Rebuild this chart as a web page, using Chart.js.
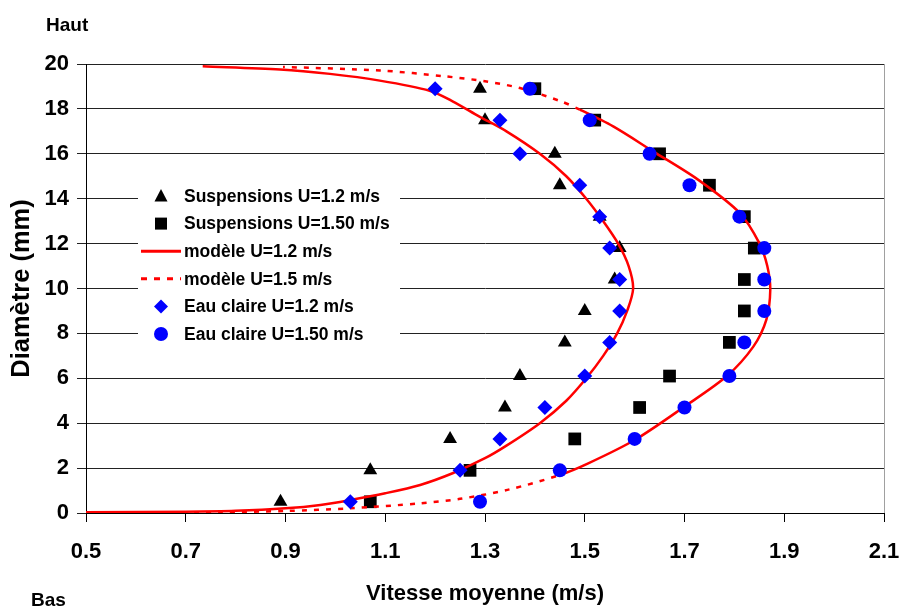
<!DOCTYPE html>
<html>
<head>
<meta charset="utf-8">
<script src="https://cdn.jsdelivr.net/npm/chart.js@4.4.1/dist/chart.umd.min.js"></script>
<style>
  body { margin: 0; background: #fff; }
</style>
</head>
<body>
<canvas id="chart" width="901" height="608"></canvas>
<script>
// measured heights (mm) shared by all the point series
const yLevels = [0.5, 1.9, 3.3, 4.7, 6.1, 7.6, 9.0, 10.4, 11.8, 13.2, 14.6, 16.0, 17.5, 18.9];
const suspU12 = [0.89, 1.07, 1.23, 1.34, 1.37, 1.46, 1.50, 1.56, 1.57, 1.53, 1.45, 1.44, 1.30, 1.29];
const suspU15 = [1.07, 1.27, 1.48, 1.61, 1.67, 1.79, 1.82, 1.82, 1.84, 1.82, 1.75, 1.65, 1.52, 1.40];
const eauU12 = [1.03, 1.25, 1.33, 1.42, 1.50, 1.55, 1.57, 1.57, 1.55, 1.53, 1.49, 1.37, 1.33, 1.20];
const eauU15 = [1.29, 1.45, 1.60, 1.70, 1.79, 1.82, 1.86, 1.86, 1.86, 1.81, 1.71, 1.63, 1.51, 1.39];

// model curves
const modelU12Y = [0.03, 0.06, 0.10, 0.21, 0.36, 0.58, 0.88, 1.25, 1.77, 2.44, 3.0, 4.0, 5.0, 6.0, 7.0, 8.0, 9.0, 10.0, 11.0, 12.0, 13.0, 14.0, 15.0, 16.0, 17.0, 17.67, 18.34, 18.81, 19.26, 19.56, 19.76, 19.90];
const modelU12X = [0.50, 0.70, 0.80, 0.90, 0.97, 1.03, 1.10, 1.17, 1.235, 1.30, 1.343, 1.41, 1.463, 1.503, 1.537, 1.565, 1.585, 1.597, 1.588, 1.567, 1.537, 1.503, 1.463, 1.41, 1.343, 1.288, 1.235, 1.189, 1.089, 0.989, 0.889, 0.734];
const modelU15Y = [0.03, 0.04, 0.09, 0.21, 0.43, 0.63, 1.03, 1.69, 2.21, 3.25, 4.74, 6.10, 7.41, 8.60, 9.94, 11.0, 12.02, 13.36, 14.85, 16.11, 17.22, 17.97, 18.34, 18.93, 19.23, 19.45, 19.71, 19.87];
const modelU15X = [0.50, 0.77, 0.90, 1.03, 1.17, 1.25, 1.345, 1.45, 1.507, 1.60, 1.70, 1.785, 1.838, 1.864, 1.872, 1.866, 1.850, 1.811, 1.727, 1.637, 1.557, 1.49, 1.452, 1.37, 1.30, 1.22, 1.09, 0.895];

const xTicksMin = 0.5, xTicksMax = 2.1, xStep = 0.2;
const yTicksMin = 0, yTicksMax = 20, yStep = 2;

const FONT = '"Liberation Sans", Arial, sans-serif';

function pts(xs, ys) {
  return xs.map((x, i) => ({ x: x, y: ys[i] }));
}

const legendItems = [
  { label: 'Suspensions U=1.2 m/s', kind: 'triangle', color: '#000' },
  { label: 'Suspensions U=1.50 m/s', kind: 'rect', color: '#000' },
  { label: 'modèle U=1.2 m/s', kind: 'line', color: '#ff0000' },
  { label: 'modèle U=1.5 m/s', kind: 'dash', color: '#ff0000' },
  { label: 'Eau claire U=1.2 m/s', kind: 'diamond', color: '#0000ff' },
  { label: 'Eau claire U=1.50 m/s', kind: 'circle', color: '#0000ff' }
];

function drawMarker(ctx, kind, x, y, color) {
  ctx.save();
  ctx.fillStyle = color;
  ctx.strokeStyle = color;
  ctx.beginPath();
  if (kind === 'triangle') {
    ctx.moveTo(x, y - 7);
    ctx.lineTo(x + 6.5, y + 5.5);
    ctx.lineTo(x - 6.5, y + 5.5);
    ctx.closePath();
    ctx.fill();
  } else if (kind === 'rect') {
    ctx.fillRect(x - 6, y - 6, 12, 12);
  } else if (kind === 'diamond') {
    ctx.moveTo(x, y - 7);
    ctx.lineTo(x + 7, y);
    ctx.lineTo(x, y + 7);
    ctx.lineTo(x - 7, y);
    ctx.closePath();
    ctx.fill();
  } else if (kind === 'circle') {
    ctx.arc(x, y, 7, 0, Math.PI * 2);
    ctx.fill();
  } else {
    ctx.lineWidth = 3;
    if (kind === 'dash') ctx.setLineDash([6, 7]);
    ctx.moveTo(141, y);
    ctx.lineTo(181, y);
    ctx.stroke();
  }
  ctx.restore();
}

const extras = {
  id: 'extras',
  afterDraw(chart) {
    const ctx = chart.ctx;
    const a = chart.chartArea;
    ctx.save();
    // right border of plot
    ctx.strokeStyle = '#a0a0a0';
    ctx.lineWidth = 1;
    ctx.beginPath();
    ctx.moveTo(a.right + 0.5, a.top);
    ctx.lineTo(a.right + 0.5, a.bottom);
    ctx.stroke();
    // legend
    ctx.fillStyle = '#fff';
    ctx.fillRect(138, 181, 262, 167);
    let rowY = 196;
    legendItems.forEach(it => {
      drawMarker(ctx, it.kind, 161, rowY, it.color);
      ctx.fillStyle = '#000';
      ctx.font = 'bold 17.5px ' + FONT;
      ctx.textBaseline = 'middle';
      ctx.textAlign = 'left';
      ctx.fillText(it.label, 184, rowY + 1);
      rowY += 27.6;
    });
    // Haut / Bas
    ctx.font = 'bold 19px ' + FONT;
    ctx.textBaseline = 'alphabetic';
    ctx.fillText('Haut', 46, 31);
    ctx.fillText('Bas', 31, 606);
    ctx.restore();
  }
};

new Chart(document.getElementById('chart'), {
  type: 'scatter',
  data: {
    datasets: [
      {
        label: 'Eau claire U=1.50 m/s',
        data: pts(eauU15, yLevels),
        pointStyle: 'circle',
        pointRadius: 7,
        pointBorderWidth: 0,
        backgroundColor: '#0000ff',
        borderColor: '#0000ff',
        order: 0
      },
      {
        label: 'Eau claire U=1.2 m/s',
        data: pts(eauU12, yLevels),
        pointStyle: 'rectRot',
        pointRadius: 7.5,
        pointBorderWidth: 0,
        backgroundColor: '#0000ff',
        borderColor: '#0000ff',
        order: 1
      },
      {
        label: 'modèle U=1.2 m/s',
        data: pts(modelU12X, modelU12Y),
        showLine: true,
        pointRadius: 0,
        borderColor: '#ff0000',
        borderWidth: 2.5,
        tension: 0.3,
        order: 2
      },
      {
        label: 'modèle U=1.5 m/s',
        data: pts(modelU15X, modelU15Y),
        showLine: true,
        pointRadius: 0,
        borderColor: '#ff0000',
        borderWidth: 2.5,
        borderDash: [5, 7],
        tension: 0.3,
        segment: {
          borderDash: c => (c.p0.parsed.y >= 1.6 && c.p1.parsed.y <= 18) ? [] : undefined
        },
        order: 2
      },
      {
        label: 'Suspensions U=1.50 m/s',
        data: pts(suspU15, yLevels),
        pointStyle: 'rect',
        pointRadius: 9,
        pointBorderWidth: 0,
        backgroundColor: '#000',
        borderColor: '#000',
        order: 3
      },
      {
        label: 'Suspensions U=1.2 m/s',
        data: pts(suspU12, yLevels),
        pointStyle: 'triangle',
        pointRadius: 8,
        pointBorderWidth: 0,
        backgroundColor: '#000',
        borderColor: '#000',
        order: 3
      }
    ]
  },
  options: {
    responsive: false,
    animation: false,
    devicePixelRatio: 1,
    layout: { padding: { top: 64, right: 17, bottom: 0, left: 0 } },
    plugins: {
      legend: { display: false },
      tooltip: { enabled: false }
    },
    scales: {
      x: {
        type: 'linear',
        min: xTicksMin,
        max: xTicksMax,
        afterFit: s => { s.height = 95; s.paddingLeft = 0; s.paddingRight = 0; },
        ticks: {
          stepSize: xStep,
          color: '#000',
          padding: 17,
          font: { family: FONT, size: 22, weight: 'bold' },
          callback: v => v.toFixed(1)
        },
        grid: { drawOnChartArea: false, drawTicks: true, tickLength: 9, color: '#000' },
        border: { display: true, color: '#000', width: 1 },
        title: {
          display: true,
          text: 'Vitesse moyenne (m/s)',
          color: '#000',
          font: { family: FONT, size: 22, weight: 'bold' },
          padding: { top: 0, bottom: 1 }
        }
      },
      y: {
        type: 'linear',
        min: yTicksMin,
        max: yTicksMax,
        afterFit: s => { s.width = 86; s.paddingTop = 0; s.paddingBottom = 0; },
        ticks: {
          stepSize: yStep,
          color: '#000',
          padding: 8,
          font: { family: FONT, size: 22, weight: 'bold' }
        },
        grid: { color: '#222', lineWidth: 1, tickLength: 9 },
        border: { display: true, color: '#000', width: 1 },
        title: {
          display: true,
          text: 'Diamètre (mm)',
          color: '#000',
          font: { family: FONT, size: 25.5, weight: 'bold' },
          padding: { top: 7, bottom: 0 }
        }
      }
    }
  },
  plugins: [extras]
});
</script>
</body>
</html>
